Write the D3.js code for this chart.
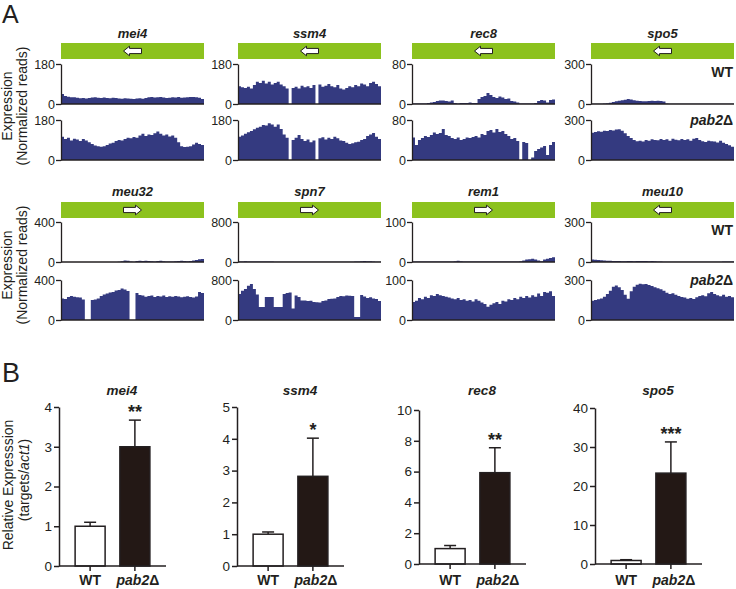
<!DOCTYPE html>
<html>
<head>
<meta charset="utf-8">
<script src="https://cdn.jsdelivr.net/npm/d3@7"></script>
<style>
body { margin: 0; background: #fff; }
svg { display: block; font-family: "Liberation Sans", Arial, sans-serif; }
</style>
</head>
<body>
<div class="fig"></div>
<script>
// ---- panel A : coverage tracks ----
var trackGenes = ["mei4", "ssm4", "rec8", "spo5", "meu32", "spn7", "rem1", "meu10"];
var trackMax = [180, 180, 80, 300, 400, 800, 100, 300];
var strand = ["-", "-", "-", "-", "+", "+", "+", "-"];
var rowLabels = ["WT", "pab2"];

var mei4WT = [45,36,33,30,30,28,26,27,25,27,29,30,28,27,29,27,26,28,27,25,24,26,25,24,23,25,26,24,27,30,31,29,30,32,29,27,28,30,29,31,28,29,30,32,31,30,28,22];
var mei4Pab2 = [105,95,100,88,96,92,86,94,88,80,72,65,62,60,62,68,74,78,85,90,88,95,100,98,104,100,110,118,108,115,112,120,128,118,110,115,106,110,100,80,62,58,60,62,70,78,72,68];
var ssm4WT = [80,75,72,78,70,85,100,95,105,92,100,88,95,100,88,80,70,0,72,78,70,82,75,80,72,85,0,88,78,82,90,80,75,85,70,65,72,80,75,85,80,92,88,80,95,100,90,80];
var ssm4Pab2 = [105,110,118,125,130,138,145,150,158,155,165,160,150,160,140,115,100,0,90,100,112,95,85,92,80,88,0,98,102,92,100,95,105,98,88,85,78,72,75,80,82,90,95,108,115,122,105,95];
var rec8WT = [1,1,1,1,1,2,3,4,6,7,7,6,5,7,2,1,2,2,2,3,2,2,10,14,16,22,18,14,12,15,13,10,11,6,5,3,1,1,1,1,1,2,6,8,7,3,8,9];
var rec8Pab2 = [45,30,40,44,48,46,50,55,52,54,62,50,48,44,42,45,40,42,45,44,46,48,45,52,50,58,60,55,62,56,58,52,48,42,44,38,0,36,34,0,5,18,22,25,28,10,30,36];
var spo5WT = [2,2,2,2,3,5,10,15,20,25,28,32,38,34,28,25,22,20,20,22,24,22,24,22,18,4,1,1,1,1,1,1,1,1,1,1,1,1,1,1,1,1,1,1,1,1,1,1];
var spo5Pab2 = [205,210,215,212,220,218,225,222,228,230,220,200,180,165,150,140,145,138,150,145,155,150,148,158,150,155,145,160,152,148,158,150,155,145,160,165,150,140,135,145,140,138,132,145,130,120,110,100];
var meu32WT = [1,1,1,1,1,1,1,1,1,1,1,1,1,1,1,1,1,1,1,2,8,15,12,5,3,10,12,10,12,10,8,6,10,12,8,5,4,6,8,10,12,10,8,10,14,20,28,30];
var meu32Pab2 = [215,210,230,240,232,228,225,205,0,0,200,205,215,240,255,265,275,280,295,300,315,305,290,0,0,270,250,245,232,240,245,230,240,235,245,230,238,232,240,235,228,232,238,230,225,235,280,270];
var spn7WT = [12,12,14,12,10,12,10,10,8,8,10,8,6,6,6,6,5,5,5,5,4,4,4,4,4,4,4,4,4,4,4,4,4,4,4,4,5,5,6,8,12,16,18,16,14,10,6,4];
var spn7Pab2 = [522,587,620,686,720,620,508,260,260,460,460,460,260,260,260,520,540,550,230,490,460,390,390,380,385,360,355,350,380,390,420,425,430,460,480,475,490,485,480,60,60,500,470,440,455,430,420,380];
var rem1WT = [1,1,1,1,1,1,1,1,1,1,1,1,1,1,2,3,2,1,1,1,1,1,1,1,1,1,1,1,1,1,1,1,1,1,1,1,2,4,6,7,8,6,4,2,6,8,10,12];
var rem1Pab2 = [45,48,55,52,58,55,62,60,65,62,60,58,56,54,52,55,50,52,48,50,46,52,48,44,40,33,38,42,45,40,48,46,52,50,55,52,58,55,60,56,62,58,66,60,70,68,72,60];
var meu10WT = [18,16,15,14,12,10,10,8,8,7,6,6,7,8,6,8,7,8,8,6,7,6,4,3,2,2,2,2,2,2,2,2,2,2,2,2,2,2,2,2,2,2,2,2,3,4,4,3];
var meu10Pab2 = [145,150,155,162,175,195,220,250,258,245,225,190,160,215,250,265,272,268,270,262,255,245,238,230,220,205,195,200,190,180,172,168,160,165,158,170,180,185,178,200,210,195,185,178,190,175,180,170];

var wtTracks = [mei4WT, ssm4WT, rec8WT, spo5WT, meu32WT, spn7WT, rem1WT, meu10WT];
var pabTracks = [mei4Pab2, ssm4Pab2, rec8Pab2, spo5Pab2, meu32Pab2, spn7Pab2, rem1Pab2, meu10Pab2];

// ---- panel B : qPCR ----
var qpcrGenes = ["mei4", "ssm4", "rec8", "spo5"];
var strains = ["WT", "pab2"];
var wtMean = [1.0, 1.0, 1.0, 0.9];
var wtErr = [0.1, 0.07, 0.2, 0.2];
var pabMean = [3.0, 2.82, 5.93, 23.3];
var pabErr = [0.67, 1.2, 1.62, 8.0];
var yMax = [4, 5, 10, 40];
var yStep = [1, 1, 2, 10];
var sigStars = ["**", "*", "**", "***"];

var ink = "#231f20",
  navy = "#343a80",
  green = "#8cc21e";

var svg = d3.select(".fig").append("svg")
  .attr("width", 736)
  .attr("height", 589);

function pab2Text(sel) {
  sel.append("tspan").attr("font-style", "italic").text("pab2");
  sel.append("tspan").attr("font-style", "normal").text("\u0394");
}

svg.append("text").attr("x", 2).attr("y", 23)
  .attr("font-size", 25).attr("fill", ink).text("A");
svg.append("text").attr("x", 2).attr("y", 382)
  .attr("font-size", 27).attr("fill", ink).text("B");

var trackCols = [61, 238, 412, 591],
  trackW = 143,
  trackH = 40;
var rows = [{ title: 37.5, green: 43, wt: 64, pab: 120 },
            { title: 195.5, green: 202, wt: 222, pab: 280 }];

// y title of panel A
rows.forEach(function(r) {
  var cy = (r.wt + r.pab + trackH) / 2 - 6;
  var t = svg.append("g").attr("transform", "translate(12," + cy + ") rotate(-90)")
    .attr("font-size", 14).attr("fill", ink).attr("text-anchor", "middle");
  t.append("text").attr("y", 0).text("Expression");
  t.append("text").attr("y", 15).text("(Normalized reads)");
});

trackGenes.forEach(function(g, k) {
  var col = k % 4,
    r = rows[Math.floor(k / 4)],
    x0 = trackCols[col];
  var n = wtTracks[k].length;
  var x = d3.scaleLinear().domain([0, n]).range([x0, x0 + trackW]);

  svg.append("text")
    .attr("x", x0 + trackW / 2).attr("y", r.title)
    .attr("text-anchor", "middle")
    .attr("font-size", 13).attr("font-weight", "bold").attr("font-style", "italic")
    .attr("fill", ink).text(g);

  svg.append("rect")
    .attr("x", x0).attr("y", r.green)
    .attr("width", trackW).attr("height", 16)
    .attr("fill", green);

  // block arrow for strand
  var cx = x0 + trackW / 2, cy = r.green + 8, d = strand[k] === "+" ? 1 : -1;
  var arrow = [[-9, -2.6], [3, -2.6], [3, -4.8], [9, 0], [3, 4.8], [3, 2.6], [-9, 2.6]]
    .map(function(p) { return [cx + d * p[0], cy + p[1]]; });
  svg.append("path")
    .attr("d", d3.line()(arrow) + "Z")
    .attr("fill", "#fff").attr("stroke", ink).attr("stroke-width", 1);

  [wtTracks[k], pabTracks[k]].forEach(function(vals, s) {
    var top = s === 0 ? r.wt : r.pab;
    var y = d3.scaleLinear().domain([0, trackMax[k]]).range([top + trackH, top]);
    var pts = vals.map(function(v, i) { return [i, v]; });
    pts.push([n, vals[n - 1]]);
    var area = d3.area()
      .curve(d3.curveStepAfter)
      .x(function(p) { return x(p[0]); })
      .y0(y(0))
      .y1(function(p) { return y(p[1]); });
    svg.append("path").attr("d", area(pts)).attr("fill", navy);

    var ax = svg.append("g")
      .attr("transform", "translate(" + x0 + ",0)")
      .call(d3.axisLeft(y).tickValues([0, trackMax[k]]).tickSize(5).tickSizeOuter(0).tickPadding(1));
    ax.selectAll("text").attr("font-size", 12.5).attr("fill", ink).attr("font-family", null);
    ax.selectAll("line,path").attr("stroke", ink).attr("stroke-width", 1.3);

    svg.append("line")
      .attr("x1", x(0)).attr("x2", x(n))
      .attr("y1", y(0)).attr("y2", y(0))
      .attr("stroke", ink).attr("stroke-width", 1.3);
  });
});

rows.forEach(function(r) {
  svg.append("text").attr("x", 733).attr("y", r.wt + 13)
    .attr("text-anchor", "end").attr("font-size", 14).attr("font-weight", "bold")
    .attr("fill", ink).text(rowLabels[0]);
  svg.append("text").attr("x", 733).attr("y", r.pab + 5)
    .attr("text-anchor", "end").attr("font-size", 14).attr("font-weight", "bold")
    .attr("fill", ink).call(pab2Text);
});

// ---- panel B ----
var bAxisX = [59, 237, 419, 595],
  bTop = [407, 407, 410, 408],
  bBottom = [566, 566, 564, 564],
  bW = 107;

var yl = svg.append("g").attr("transform", "translate(13,485) rotate(-90)")
  .attr("font-size", 14).attr("fill", ink).attr("text-anchor", "middle");
yl.append("text").attr("y", 0).text("Relative Expresssion");
var yl2 = yl.append("text").attr("y", 16).attr("x", 5);
yl2.append("tspan").text("(targets/");
yl2.append("tspan").attr("font-style", "italic").text("act1");
yl2.append("tspan").text(")");

qpcrGenes.forEach(function(g, k) {
  var ax0 = bAxisX[k];
  var x = d3.scaleBand().domain(strains)
    .range([ax0, ax0 + bW]).paddingInner(0.33).paddingOuter(0.36);
  var y = d3.scaleLinear().domain([0, yMax[k]]).range([bBottom[k], bTop[k]]);
  var means = [wtMean[k], pabMean[k]],
    errs = [wtErr[k], pabErr[k]];

  svg.append("text")
    .attr("x", ax0 + 63).attr("y", 395)
    .attr("text-anchor", "middle")
    .attr("font-size", 13.5).attr("font-weight", "bold").attr("font-style", "italic")
    .attr("fill", ink).text(g);

  // error bars first, bars on top
  strains.forEach(function(s, i) {
    var cx = x(s) + x.bandwidth() / 2;
    var top = y(means[i] + errs[i]);
    svg.append("line").attr("x1", cx).attr("x2", cx)
      .attr("y1", y(means[i])).attr("y2", top)
      .attr("stroke", ink).attr("stroke-width", 1.5);
    svg.append("line").attr("x1", cx - 6).attr("x2", cx + 6)
      .attr("y1", top).attr("y2", top)
      .attr("stroke", ink).attr("stroke-width", 1.5);
  });

  svg.selectAll(null).data(strains).enter().append("rect")
    .attr("x", function(s) { return x(s); })
    .attr("y", function(s, i) { return y(means[i]); })
    .attr("width", x.bandwidth())
    .attr("height", function(s, i) { return y(0) - y(means[i]); })
    .attr("fill", function(s, i) { return i === 0 ? "#fff" : "#231815"; })
    .attr("stroke", ink).attr("stroke-width", 1.5);

  svg.append("text")
    .attr("x", x("pab2") + x.bandwidth() / 2)
    .attr("y", y(pabMean[k] + pabErr[k]) - 2)
    .attr("text-anchor", "middle")
    .attr("font-size", 18).attr("font-weight", "bold")
    .attr("fill", ink).text(sigStars[k]);

  var ya = svg.append("g")
    .attr("transform", "translate(" + ax0 + ",0)")
    .call(d3.axisLeft(y).tickValues(d3.range(0, yMax[k] + 1e-9, yStep[k]))
      .tickFormat(d3.format("d"))
      .tickSize(5).tickSizeOuter(0).tickPadding(2));
  ya.selectAll("text").attr("font-size", 13.5).attr("fill", ink).attr("font-family", null);
  ya.selectAll("line,path").attr("stroke", ink).attr("stroke-width", 1.5);

  var xa = svg.append("g")
    .attr("transform", "translate(0," + y(0) + ")")
    .call(d3.axisBottom(x).tickSize(5).tickSizeOuter(0).tickFormat(""));
  xa.selectAll("line,path").attr("stroke", ink).attr("stroke-width", 1.5);
  xa.select("path").attr("d", "M" + ax0 + ",0H" + (ax0 + bW));

  svg.append("text")
    .attr("x", x("WT") + x.bandwidth() / 2).attr("y", 585)
    .attr("text-anchor", "middle").attr("font-size", 14).attr("font-weight", "bold")
    .attr("fill", ink).text("WT");
  svg.append("text")
    .attr("x", x("pab2") + x.bandwidth() / 2 + 3).attr("y", 585)
    .attr("text-anchor", "middle").attr("font-size", 14).attr("font-weight", "bold")
    .attr("fill", ink).call(pab2Text);
});
</script>
</body>
</html>
